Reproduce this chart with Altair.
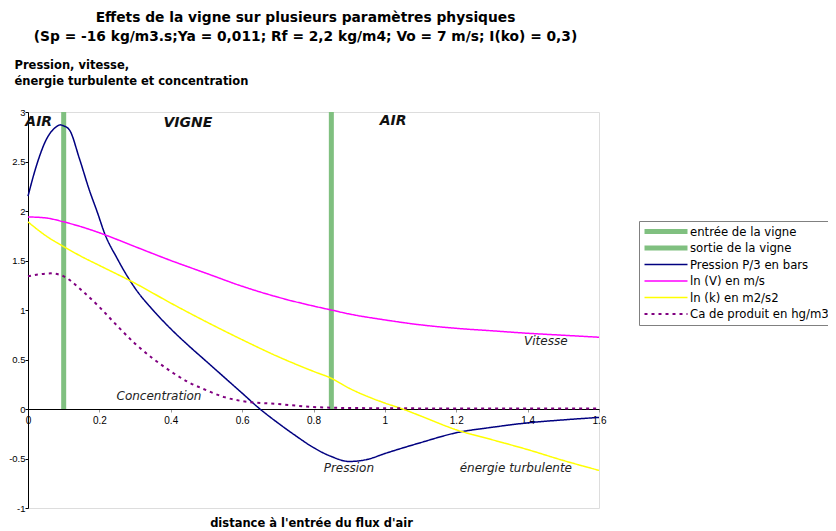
import altair as alt
import pandas as pd

# --- data ---
names = ["entrée de la vigne", "sortie de la vigne", "Pression P/3 en bars",
         "ln (V) en m/s", "ln (k) en m2/s2", "Ca de produit en hg/m3"]
colors = ["#80c080", "#80c080", "#000080", "#ff00ff", "#ffff00", "#800080"]
widths = [5, 5, 1.5, 1.5, 1.5, 2]
dashes = [[1, 0], [1, 0], [1, 0], [1, 0], [1, 0], [3, 4]]

entree_x = [0.1]
sortie_x = [0.85]
marker_top = [3.0]
marker_bottom = [0.0]

p_x = [0, 0.023, 0.051, 0.079, 0.09, 0.1, 0.116, 0.144, 0.172, 0.195, 0.214, 0.25, 0.3,
       0.35, 0.4, 0.45, 0.5, 0.55, 0.6, 0.65, 0.7, 0.75, 0.8, 0.85, 0.9, 0.95, 1.0, 1.1,
       1.2, 1.3, 1.4, 1.5, 1.6]
p_y = [2.15, 2.45, 2.72, 2.85, 2.87, 2.86, 2.82, 2.53, 2.21, 1.98, 1.78, 1.52, 1.22,
       1.00, 0.81, 0.64, 0.48, 0.32, 0.16, 0.0, -0.14, -0.27, -0.39, -0.48, -0.53, -0.51,
       -0.45, -0.34, -0.24, -0.185, -0.14, -0.11, -0.085]

v_x = [0, 0.05, 0.1, 0.15, 0.2, 0.3, 0.4, 0.5, 0.6, 0.7, 0.8, 0.85, 0.9, 1.0, 1.1, 1.2,
       1.3, 1.4, 1.5, 1.6]
v_y = [1.94, 1.93, 1.89, 1.84, 1.78, 1.64, 1.50, 1.37, 1.24, 1.13, 1.04, 1.0, 0.96, 0.90,
       0.85, 0.815, 0.79, 0.765, 0.745, 0.725]

k_x = [0, 0.05, 0.1, 0.15, 0.2, 0.3, 0.4, 0.5, 0.6, 0.7, 0.8, 0.85, 0.9, 1.0, 1.05, 1.1,
       1.2, 1.3, 1.4, 1.5, 1.6]
k_y = [1.89, 1.75, 1.64, 1.54, 1.45, 1.27, 1.07, 0.88, 0.70, 0.53, 0.38, 0.31, 0.21, 0.06,
       0.0, -0.07, -0.21, -0.31, -0.41, -0.52, -0.62]

c_x = [0, 0.03, 0.065, 0.1, 0.15, 0.2, 0.25, 0.3, 0.35, 0.4, 0.45, 0.5, 0.55, 0.6, 0.7,
       0.8, 0.9, 1.0, 1.2, 1.4, 1.6]
c_y = [1.34, 1.36, 1.37, 1.34, 1.20, 1.03, 0.84, 0.66, 0.51, 0.38, 0.27, 0.19, 0.12, 0.08,
       0.05, 0.02, 0.01, 0.008, 0.005, 0.005, 0.005]

big_labels = ["AIR", "VIGNE", "AIR"]
big_x = [0.03, 0.448, 1.023]
big_y = [2.90, 2.89, 2.91]

small_labels = ["Vitesse", "Concentration", "Pression", "énergie turbulente"]
small_x = [1.451, 0.367, 0.899, 1.367]
small_y = [0.687, 0.131, -0.596, -0.596]

x_ticks = [0, 0.2, 0.4, 0.6, 0.8, 1, 1.2, 1.4, 1.6]
y_ticks = [-1, -0.5, 0, 0.5, 1, 1.5, 2, 2.5, 3]

# --- tables ---
rows = []
for name, xs, ys in [(names[2], p_x, p_y), (names[3], v_x, v_y),
                     (names[4], k_x, k_y), (names[5], c_x, c_y)]:
    for i, (xv, yv) in enumerate(zip(xs, ys)):
        rows.append({"s": name, "x": xv, "y": yv, "o": i})
curves = pd.DataFrame(rows)

markers = pd.DataFrame({
    "s": [names[0], names[1]],
    "x": entree_x + sortie_x,
    "y": marker_bottom * 2,
    "y2": marker_top * 2,
})

big = pd.DataFrame({"t": big_labels, "x": big_x, "y": big_y})
small = pd.DataFrame({"t": small_labels, "x": small_x, "y": small_y})

FONT = "DejaVu Sans"
TICKFONT = "Liberation Sans"

xscale = alt.Scale(domain=[0, 1.6], nice=False, zero=False)
yscale = alt.Scale(domain=[-1, 3], nice=False, zero=False)

x_axis = alt.Axis(values=x_ticks, offset=-99, grid=False, domainColor="black",
                  tickColor="#999999", tickSize=3, labelFont=TICKFONT, labelFontSize=10,
                  labelColor="black", labelPadding=3, labelFlush=False,
                  labelExpr="'' + datum.value",
                  title="distance à l'entrée du flux d'air", titleFont=FONT,
                  titleFontSize=11.5, titleFontWeight="bold", titleColor="black",
                  titleBaseline="middle", titleY=114, titleX=283)
y_axis = alt.Axis(values=y_ticks, grid=False, domainColor="black", tickColor="black",
                  tickSize=3, labelFont=TICKFONT, labelFontSize=9.5, labelColor="black",
                  labelPadding=0, labelFlush=False, labelExpr="'' + datum.value",
                  title=["Pression, vitesse,", "énergie turbulente et concentration"],
                  titleFont=FONT, titleFontSize=11.5, titleFontWeight="bold",
                  titleColor="black", titleAngle=0, titleAlign="left",
                  titleBaseline="top", titleX=-14, titleY=-53, titleLineHeight=16)

legend = alt.Legend(title=None, orient="none", legendX=611, legendY=109,
                    symbolType="stroke", symbolSize=1849, clipHeight=15,
                    labelOffset=0, symbolOffset=0,
                    labelFont=FONT, labelFontSize=11.7, labelColor="black",
                    labelLimit=400, strokeColor="#808080", padding=3, rowPadding=1.5)

color = alt.Color("s:N", scale=alt.Scale(domain=names, range=colors), legend=legend)
swidth = alt.StrokeWidth("s:N", scale=alt.Scale(type="ordinal", domain=names, range=widths),
                         legend=legend)
sdash = alt.StrokeDash("s:N", scale=alt.Scale(domain=names, range=dashes), legend=legend)

rules = alt.Chart(markers).mark_rule().encode(
    x=alt.X("x:Q", scale=xscale, axis=x_axis),
    y=alt.Y("y:Q", scale=yscale, axis=y_axis),
    y2="y2:Q",
    color=color, strokeWidth=swidth, strokeDash=sdash,
)

lines = alt.Chart(curves).mark_line(interpolate="monotone").encode(
    x=alt.X("x:Q", scale=xscale, axis=x_axis),
    y=alt.Y("y:Q", scale=yscale, axis=y_axis),
    order="o:Q",
    color=color, strokeWidth=swidth, strokeDash=sdash,
)

big_text = alt.Chart(big).mark_text(font=FONT, fontSize=14, fontWeight="bold",
                                    fontStyle="italic", color="#111111").encode(
    x="x:Q", y="y:Q", text="t:N")
small_text = alt.Chart(small).mark_text(font=FONT, fontSize=12, fontStyle="italic",
                                        color="#222222").encode(
    x="x:Q", y="y:Q", text="t:N")

chart = alt.layer(rules, lines, big_text, small_text).properties(
    width=571, height=396,
    autosize=alt.AutoSizeParams(type="none"),
    padding={"left": 20, "top": 104, "right": 229, "bottom": 21},
    title=alt.Title(["Effets de la vigne sur plusieurs paramètres physiques",
                     "(Sp = -16 kg/m3.s;Ya = 0,011; Rf = 2,2 kg/m4; Vo = 7 m/s; I(ko) = 0,3)"],
                    font=FONT, fontSize=13.8, fontWeight="bold", color="black",
                    lineHeight=19, anchor="middle", dx=-8, offset=15),
).configure_view(stroke=None).configure(background="white").configure_legend(
    symbolType="stroke", symbolSize=1849, clipHeight=15, labelOffset=0, symbolOffset=0)

chart.save("out.html", embed_options={"renderer": "svg", "actions": False})
